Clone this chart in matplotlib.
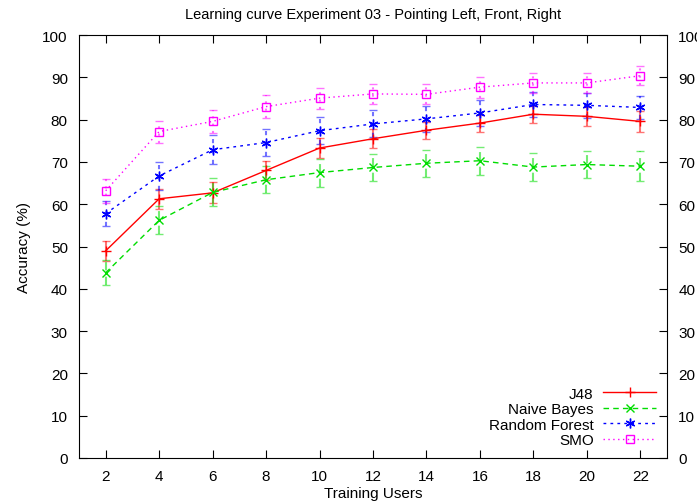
import matplotlib.pyplot as plt
from matplotlib.lines import Line2D

plt.rcParams['font.family'] = ['Liberation Sans', 'DejaVu Sans']

# data
users = [2, 4, 6, 8, 10, 12, 14, 16, 18, 20, 22]
j48 = [49.0, 61.3, 62.7, 68.0, 73.3, 75.5, 77.5, 79.2, 81.3, 80.8, 79.6]
j48_err = [2.3, 2.4, 2.5, 2.3, 2.4, 2.2, 2.0, 2.0, 2.0, 2.2, 2.5]
naive_bayes = [43.8, 56.2, 62.8, 65.8, 67.5, 68.7, 69.7, 70.3, 68.8, 69.4, 69.0]
nb_err = [3.0, 3.3, 3.3, 3.2, 3.3, 3.3, 3.2, 3.3, 3.4, 3.3, 3.5]
random_forest = [57.8, 66.7, 72.9, 74.6, 77.4, 79.0, 80.2, 81.6, 83.6, 83.4, 82.9]
rf_err = [3.0, 3.4, 3.4, 3.3, 3.2, 3.2, 3.0, 3.0, 3.0, 3.0, 2.8]
smo = [63.2, 77.2, 79.6, 83.1, 85.1, 86.1, 86.0, 87.7, 88.7, 88.7, 90.4]
smo_err = [2.8, 2.6, 2.8, 2.7, 2.5, 2.4, 2.4, 2.5, 2.4, 2.4, 2.3]

series = [
    ("J48", j48, j48_err, '#ff0000', '-', '+', 7),
    ("Naive Bayes", naive_bayes, nb_err, '#00dd00', (0, (4, 3)), 'x', 5.5),
    ("Random Forest", random_forest, rf_err, '#0000ff', (0, (2, 3)), (6, 2, 0), 7),
    ("SMO", smo, smo_err, '#ff00ff', (0, (1, 2.5)), 's', 5.5),
]

fig = plt.figure(figsize=(6.97, 5.02), dpi=100)
ax = fig.add_axes([0.1133, 0.0857, 0.8437, 0.8423])

handles = []
for name, vals, err, col, ls, mk, ms in series:
    eb = ax.errorbar(users, vals, yerr=err, color=col, linestyle=ls, linewidth=1,
                     marker=mk, markersize=ms,
                     markerfacecolor='none', markeredgewidth=1,
                     ecolor=col, elinewidth=1.5, capsize=3, capthick=1.5)
    for bar in eb[2]:
        bar.set_linestyle(ls)
        bar.set_alpha(0.55)
    for cap in eb[1]:
        cap.set_alpha(0.55)
    handles.append(Line2D([], [], color=col, linestyle=ls, linewidth=1,
                          marker=mk, markersize=ms,
                          markerfacecolor='none', label=name))

ax.set_xlim(1, 23)
ax.set_ylim(0, 100)
ax.set_xticks(users)
ax.set_yticks(range(0, 101, 10))
ax.tick_params(direction='in', length=6, top=True, right=True,
               labelright=True, labelsize=11, pad=8)
ax.set_xlabel("Training Users", fontsize=11, labelpad=2)
ax.set_ylabel("Accuracy (%)", fontsize=11, labelpad=8)
ax.set_title("Learning curve Experiment 03 - Pointing Left, Front, Right",
             fontsize=10.5, pad=12)

ax.legend(handles=handles, loc='lower right', markerfirst=False, frameon=False,
          fontsize=11, handlelength=3.5, labelspacing=0.1, handletextpad=0.6,
          borderaxespad=0.3)

fig.savefig("out.png", dpi=100)
